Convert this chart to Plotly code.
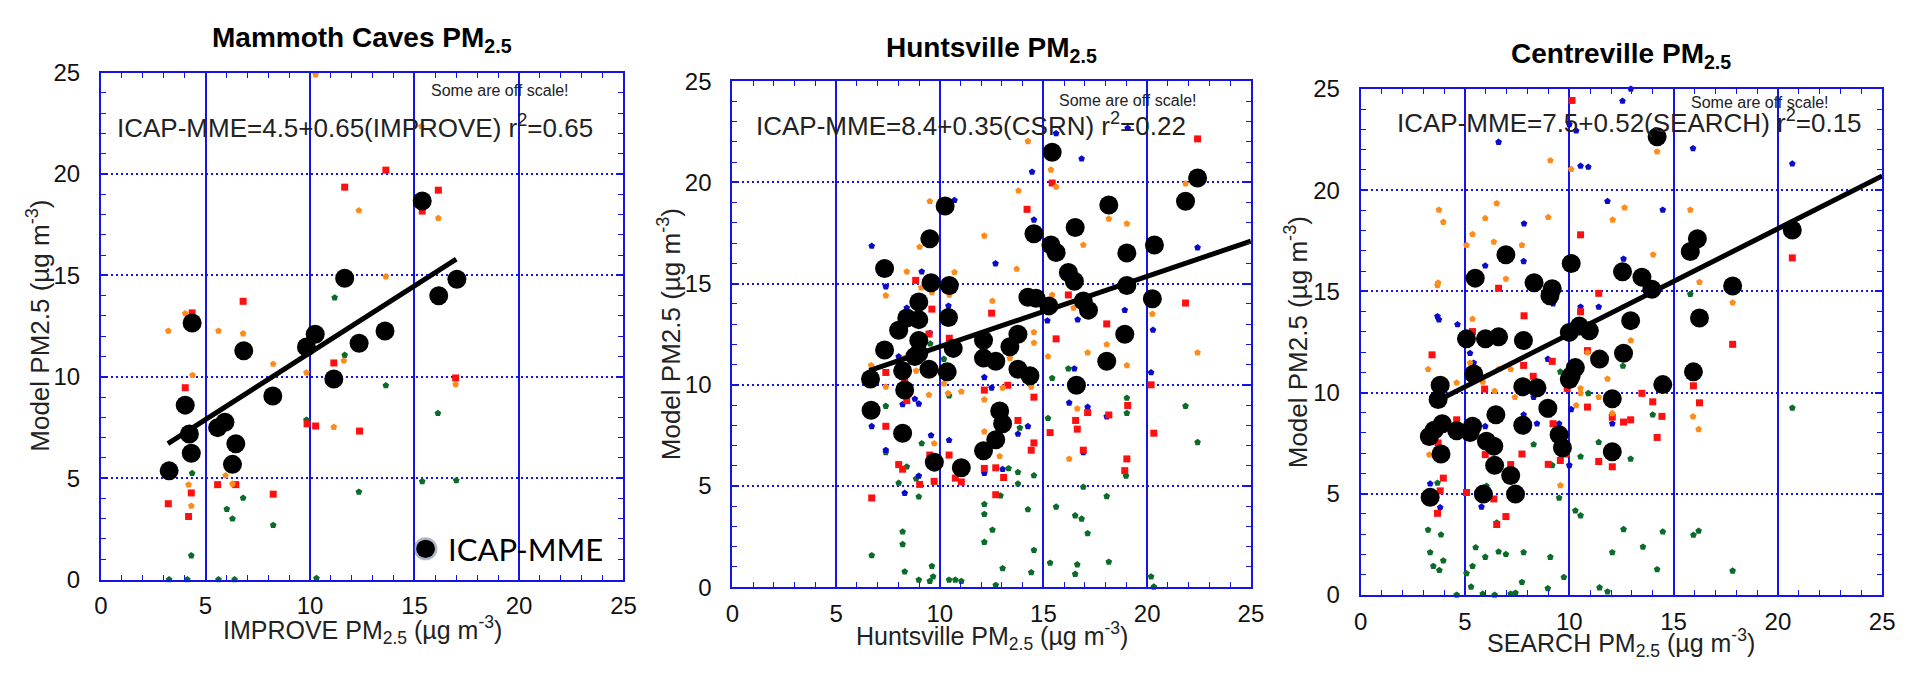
import plotly.graph_objects as go

W, H = 1915, 678

# ---------------- data: Mammoth Caves (IMPROVE) ----------------
mc_icap_x = [3.26, 4.03, 4.23, 4.32, 4.36, 5.58, 5.93, 6.29, 6.45, 6.83, 8.22, 9.83, 10.25, 11.14, 11.66, 12.35, 13.59, 15.37, 16.16, 17.03]
mc_icap_y = [5.36, 8.6, 7.18, 6.23, 12.65, 7.49, 7.76, 5.68, 6.7, 11.28, 9.05, 11.47, 12.1, 9.89, 14.86, 11.65, 12.26, 18.67, 13.99, 14.81]
mc_orange_x = [10.27, 15.33, 12.34, 16.14, 13.63, 4.03, 3.22, 5.62, 6.8, 11.62, 8.24, 4.38, 9.83, 16.97, 11.14, 5.96, 4.19, 6.29, 4.32]
mc_orange_y = [24.9, 22.35, 18.2, 17.82, 14.94, 13.12, 12.26, 12.26, 12.13, 10.79, 10.63, 10.08, 10.2, 9.62, 7.52, 5.13, 4.68, 4.72, 3.63]
mc_red_x = [13.63, 11.66, 16.14, 15.37, 6.8, 4.36, 11.14, 4.03, 16.97, 9.86, 10.27, 12.37, 5.93, 5.58, 6.45, 4.32, 8.24, 3.22, 4.19]
mc_red_y = [20.19, 19.35, 19.2, 18.17, 13.72, 13.15, 10.68, 9.46, 9.94, 7.68, 7.57, 7.32, 8.0, 4.68, 4.68, 4.27, 4.21, 3.74, 3.11]
mc_blue_x = []
mc_blue_y = []
mc_green_x = [11.18, 11.66, 13.63, 16.12, 9.83, 4.36, 15.37, 17.0, 12.34, 6.8, 6.02, 6.29, 8.24, 4.32, 3.26, 4.13, 5.62, 6.39, 10.31]
mc_green_y = [13.9, 11.07, 9.57, 8.2, 7.87, 5.24, 4.84, 4.89, 4.32, 4.02, 3.47, 3.0, 2.68, 1.18, 0.0, 0.0, 0.0, 0.0, 0.06]
mc_fit_x = [3.2, 17.0]
mc_fit_y = [6.7, 15.8]

# ---------------- data: Huntsville (CSRN) ----------------
hv_icap_x = [15.42, 22.43, 21.85, 10.26, 18.15, 16.53, 14.54, 9.52, 15.36, 15.61, 20.35, 19.02, 7.34, 16.2, 16.49, 9.58, 10.46, 19.02, 8.99, 14.25,
             14.64, 15.26, 16.92, 17.17, 20.25, 10.42, 8.41, 8.99, 8.02, 18.92, 13.77, 12.11, 8.99, 8.99, 7.34, 8.8, 10.65, 12.11, 12.7, 13.38,
             18.05, 8.21, 9.48, 10.36, 13.77, 14.35, 6.66, 16.59, 8.31, 6.69, 12.89, 13.03, 8.21, 12.7, 12.11, 9.74, 11.04]
hv_icap_y = [21.49, 20.22, 19.07, 18.83, 18.88, 17.77, 17.46, 17.22, 16.91, 16.54, 16.91, 16.51, 15.75, 15.55, 15.12, 15.04, 14.91, 14.91, 14.09, 14.33,
             14.28, 13.9, 14.14, 13.69, 14.25, 13.33, 13.3, 13.22, 12.7, 12.5, 12.5, 12.2, 12.19, 11.56, 11.72, 11.4, 11.8, 11.32, 11.16, 11.88,
             11.16, 10.69, 10.77, 10.64, 10.77, 10.45, 10.29, 9.98, 9.74, 8.74, 8.71, 8.08, 7.61, 7.29, 6.74, 6.18, 5.9]
hv_orange_x = [14.25, 15.36, 15.61, 21.85, 13.8, 9.52, 18.15, 19.02, 12.15, 9.03, 16.92, 13.71, 8.41, 10.71, 9.11, 7.4, 9.62, 10.46, 15.42, 12.54,
               20.25, 16.45, 14.54, 14.54, 18.05, 22.43, 17.13, 15.22, 13.38, 8.31, 6.69, 19.02, 8.86, 7.4, 13.03, 10.2, 14.41, 10.4, 11.04, 9.48,
               12.15, 16.63, 12.15, 9.73, 12.89, 16.24]
hv_orange_y = [22.03, 20.62, 19.78, 19.94, 19.59, 19.07, 18.2, 17.96, 17.36, 16.81, 16.91, 15.72, 15.59, 15.56, 14.8, 14.41, 14.56, 14.44, 14.44, 14.14,
               13.5, 13.8, 12.6, 12.07, 11.99, 11.59, 11.59, 11.4, 11.32, 11.32, 10.96, 10.96, 10.69, 9.9, 9.85, 10.06, 9.9, 9.58, 9.66, 9.5,
               9.27, 8.82, 7.69, 7.1, 6.47, 6.34]
hv_red_x = [22.43, 15.42, 14.21, 8.84, 16.2, 21.85, 9.62, 12.5, 18.05, 9.48, 10.46, 15.61, 7.4, 8.31, 20.19, 13.28, 12.15, 14.54, 8.41, 19.06,
            17.13, 18.15, 16.55, 13.77, 7.4, 16.63, 15.32, 20.32, 14.54, 14.41, 16.92, 10.45, 9.52, 19.02, 8.02, 8.21, 12.15, 12.7, 18.92, 13.08,
            9.73, 10.75, 11.04, 9.03, 12.7, 6.72]
hv_red_y = [22.15, 19.97, 18.67, 15.16, 14.44, 14.04, 13.74, 13.54, 13.01, 12.51, 12.3, 12.27, 10.61, 10.21, 10.0, 9.98, 9.74, 9.39, 9.22, 8.98,
            8.63, 8.51, 8.24, 8.24, 7.95, 7.81, 7.64, 7.61, 7.13, 6.77, 6.77, 6.53, 6.53, 6.34, 6.06, 5.83, 5.87, 5.9, 5.76, 5.42,
            5.23, 5.39, 5.2, 5.08, 4.57, 4.41]
hv_blue_x = [15.61, 19.06, 16.84, 14.45, 10.71, 14.54, 6.72, 22.43, 12.69, 9.13, 7.4, 8.41, 10.42, 18.92, 15.19, 16.65, 20.28, 9.52, 8.02, 16.49,
             12.15, 20.19, 12.5, 8.8, 8.99, 8.21, 16.24, 17.13, 18.05, 6.72, 14.25, 13.77, 9.58, 10.45, 16.92, 7.4, 13.03, 12.15, 8.99, 8.31]
hv_blue_y = [22.42, 22.68, 21.17, 20.52, 19.12, 18.15, 16.86, 16.78, 15.99, 15.59, 14.85, 13.8, 13.9, 13.69, 13.17, 13.22, 12.71, 12.55, 11.4, 10.8,
             10.37, 10.61, 9.85, 9.3, 9.06, 9.03, 9.11, 8.9, 8.43, 7.95, 7.95, 7.57, 7.5, 7.26, 6.66, 6.77, 5.83, 5.63, 5.5, 4.65]
hv_green_x = [9.54, 10.2, 16.2, 15.42, 10.45, 19.02, 21.85, 7.4, 19.02, 15.22, 13.86, 22.43, 9.13, 7.4, 8.41, 13.32, 13.77, 14.54, 18.98, 8.86,
              8.02, 13.77, 16.92, 8.99, 12.93, 18.05, 12.15, 15.61, 14.25, 12.15, 16.53, 16.84, 12.54, 8.21, 17.13, 8.21, 12.15, 14.54, 6.72, 15.32,
              18.15, 9.62, 13.03, 16.63, 16.53, 14.41, 8.31, 20.19, 9.68, 8.99, 9.52, 10.45, 10.75, 11.04, 12.7, 20.32]
hv_green_y = [12.03, 11.27, 10.8, 10.33, 9.46, 9.35, 8.95, 8.95, 8.6, 8.35, 7.87, 7.16, 7.1, 6.66, 5.95, 5.87, 5.68, 5.52, 5.5, 5.36,
              5.15, 5.11, 4.95, 4.47, 4.52, 4.49, 4.1, 3.97, 3.84, 3.61, 3.54, 3.38, 2.83, 2.74, 2.66, 2.12, 2.23, 1.83, 1.57, 1.2,
              1.25, 1.04, 0.93, 1.12, 0.65, 0.73, 0.77, 0.52, 0.52, 0.36, 0.3, 0.36, 0.36, 0.3, 0.1, 0.02]
hv_fit_x = [6.6, 25.0]
hv_fit_y = [10.7, 17.1]

# ---------------- data: Centreville (SEARCH) ----------------
cv_icap_x = [14.21, 20.69, 16.14, 15.8, 6.96, 10.09, 5.49, 12.55, 13.48, 8.31, 9.18, 9.07, 13.96, 17.83, 16.24, 12.94, 10.48, 10.96, 10.0, 5.07,
             5.98, 6.61, 7.8, 12.6, 11.45, 5.42, 3.81, 10.29, 10.09, 10.0, 7.77, 8.45, 14.48, 15.95, 12.06, 3.71, 8.97, 6.48, 7.77, 3.29,
             3.52, 3.91, 4.6, 5.36, 5.24, 9.51, 9.67, 6.03, 6.38, 3.85, 12.06, 6.42, 7.19, 7.42, 5.88, 3.33]
cv_icap_y = [22.64, 18.03, 17.6, 16.97, 16.81, 16.37, 15.65, 15.97, 15.7, 15.42, 15.13, 14.78, 15.1, 15.26, 13.68, 13.55, 13.28, 13.05, 12.97, 12.65,
             12.65, 12.75, 12.57, 11.94, 11.65, 10.91, 10.36, 11.23, 10.83, 10.64, 10.28, 10.23, 10.39, 11.02, 9.69, 9.65, 9.22, 8.9, 8.38, 7.83,
             8.14, 8.46, 8.11, 8.33, 8.02, 7.91, 7.27, 7.59, 7.35, 6.96, 7.07, 6.4, 5.9, 4.98, 4.98, 4.82]
cv_orange_x = [14.21, 9.09, 10.09, 6.52, 12.65, 3.75, 15.8, 3.96, 5.97, 12.08, 8.99, 5.36, 5.07, 6.38, 7.73, 14.02, 6.96, 3.71, 3.68, 16.24,
               17.83, 5.36, 12.95, 10.87, 3.23, 5.24, 7.19, 6.61, 10.0, 4.6, 5.85, 11.83, 6.42, 10.54, 10.54, 7.39, 11.41, 10.33, 12.06, 15.93,
               16.2, 3.29, 9.57]
cv_orange_y = [21.9, 21.46, 21.03, 19.34, 19.13, 19.02, 19.02, 18.42, 18.61, 18.53, 18.66, 17.82, 17.28, 17.44, 17.28, 16.81, 15.61, 15.42, 15.29, 15.45,
               14.44, 13.63, 12.57, 11.97, 11.15, 11.46, 11.15, 11.15, 11.31, 10.48, 10.52, 10.67, 10.07, 10.2, 9.96, 9.77, 9.77, 9.36, 8.97, 8.81,
               8.18, 6.93, 5.41]
cv_red_x = [10.13, 10.54, 20.69, 6.61, 11.41, 10.54, 7.83, 5.36, 17.83, 3.42, 10.87, 9.18, 7.81, 8.27, 15.95, 5.94, 9.9, 13.48, 14.0, 16.24,
            10.87, 12.06, 8.99, 14.44, 12.94, 12.6, 9.22, 4.6, 14.21, 3.71, 9.86, 7.73, 5.97, 9.57, 11.41, 7.19, 8.99, 12.06, 3.96, 3.81,
            5.07, 6.38, 3.68, 6.96, 6.52]
cv_red_y = [24.43, 17.79, 16.65, 15.15, 14.9, 13.99, 13.79, 13.01, 12.38, 11.86, 12.07, 11.54, 11.34, 10.8, 10.33, 10.17, 10.2, 9.96, 9.54, 9.49,
            9.28, 8.78, 8.93, 8.82, 8.65, 8.54, 8.46, 8.65, 7.78, 7.51, 6.96, 6.96, 6.93, 6.64, 6.59, 6.44, 6.45, 6.33, 5.77, 5.14,
            5.06, 4.74, 4.03, 3.87, 3.48]
cv_blue_x = [12.95, 12.55, 10.0, 10.33, 6.61, 15.93, 10.54, 10.91, 20.69, 11.83, 14.48, 7.83, 12.6, 7.81, 5.97, 9.22, 10.54, 11.41, 3.68, 3.75,
             4.64, 5.24, 5.42, 8.97, 8.29, 10.09, 7.81, 12.06, 8.45, 9.51, 5.97, 3.81, 10.0, 3.33, 5.79, 3.81]
cv_blue_y = [25.0, 24.4, 23.25, 22.93, 22.37, 22.06, 21.19, 21.14, 21.3, 19.45, 19.02, 18.34, 16.6, 16.48, 16.26, 14.39, 14.23, 14.23, 13.76, 13.6,
             13.36, 11.94, 11.46, 11.65, 9.77, 9.17, 8.9, 8.46, 8.46, 8.46, 8.33, 8.06, 6.4, 5.49, 4.35, 4.32]
cv_green_x = [15.8, 12.57, 9.57, 10.91, 14.0, 20.69, 8.29, 11.41, 10.54, 12.94, 9.18, 3.68, 6.03, 9.51, 10.29, 10.54, 6.52, 3.23, 3.85, 12.6,
              14.48, 16.2, 15.95, 13.53, 3.33, 5.51, 6.61, 6.96, 7.81, 12.06, 9.09, 5.97, 3.96, 3.48, 5.36, 3.77, 17.83, 14.21, 5.07, 9.74,
              7.73, 5.29, 11.45, 8.97, 11.83, 4.6, 5.85, 6.42, 7.19, 7.42]
cv_green_y = [14.86, 11.31, 11.02, 9.96, 8.9, 9.24, 7.43, 7.54, 6.83, 6.72, 6.4, 5.53, 5.38, 4.79, 4.16, 3.92, 3.56, 3.21, 2.97, 3.24,
              3.12, 3.16, 2.96, 2.37, 2.1, 2.34, 2.13, 2.01, 2.1, 2.1, 1.87, 1.87, 1.69, 1.42, 1.42, 1.22, 1.19, 1.26, 1.06, 0.87,
              0.63, 0.4, 0.36, 0.32, 0.16, 0.0, 0.05, 0.0, 0.05, 0.1]
cv_fit_x = [3.7, 25.0]
cv_fit_y = [9.6, 20.7]

# ---------------- text ----------------
titles = ["Mammoth Caves PM<sub>2.5</sub>", "Huntsville PM<sub>2.5</sub>", "Centreville PM<sub>2.5</sub>"]
equations = ["ICAP-MME=4.5+0.65(IMPROVE) r<sup>2</sup>=0.65",
             "ICAP-MME=8.4+0.35(CSRN) r<sup>2</sup>=0.22",
             "ICAP-MME=7.5+0.52(SEARCH) r<sup>2</sup>=0.15"]
x_titles = ["IMPROVE PM<sub>2.5</sub> (µg m<sup>-3</sup>)",
            "Huntsville PM<sub>2.5</sub> (µg m<sup>-3</sup>)",
            "SEARCH PM<sub>2.5</sub> (µg m<sup>-3</sup>)"]
y_title = "Model PM2.5 (µg m<sup>-3</sup>)"
note = "Some are off scale!"
legend_label = "ICAP-MME"
tick_vals = [0, 5, 10, 15, 20, 25]
tick_text = ["0", "5", "10", "15", "20", "25"]

# ---------------- style ----------------
BLUE = "#1414e6"
COL = {"orange": "#ff8c1a", "red": "#ff1010", "blue": "#0a0acc", "green": "#0b6b28"}
SYM = {"orange": "pentagon", "red": "square", "blue": "pentagon", "green": "pentagon"}
FONT = "Liberation Sans, Arial, sans-serif"

# plot boxes in pixels: left, right, top, bottom
boxes = [(95, 623, 61, 589), (733, 1257, 70, 597), (1368, 1895, 78, 605)]
title_y = [27, 37, 43]
eq_pos = [(352, 117), (974, 115), (1640, 112)]
note_pos = [(498, 80), (1133, 90), (1771, 92)]
xt_y = [642, 648, 655]
yt_x = [31, 669, 1304]

def fx(p):
    return p / W

def fy(p):
    return 1 - p / H

panels = [
    dict(icap=(mc_icap_x, mc_icap_y), fit=(mc_fit_x, mc_fit_y),
         small={"green": (mc_green_x, mc_green_y), "blue": (mc_blue_x, mc_blue_y),
                "red": (mc_red_x, mc_red_y), "orange": (mc_orange_x, mc_orange_y)}),
    dict(icap=(hv_icap_x, hv_icap_y), fit=(hv_fit_x, hv_fit_y),
         small={"green": (hv_green_x, hv_green_y), "blue": (hv_blue_x, hv_blue_y),
                "red": (hv_red_x, hv_red_y), "orange": (hv_orange_x, hv_orange_y)}),
    dict(icap=(cv_icap_x, cv_icap_y), fit=(cv_fit_x, cv_fit_y),
         small={"green": (cv_green_x, cv_green_y), "blue": (cv_blue_x, cv_blue_y),
                "red": (cv_red_x, cv_red_y), "orange": (cv_orange_x, cv_orange_y)}),
]

fig = go.Figure()
annotations = []
layout_axes = {}

for i, p in enumerate(panels):
    n = "" if i == 0 else str(i + 1)
    xa, ya = "x" + n, "y" + n
    for key in ["green", "blue", "red", "orange"]:
        sx, sy = p["small"][key]
        if not sx:
            continue
        fig.add_trace(go.Scatter(x=sx, y=sy, mode="markers", xaxis=xa, yaxis=ya,
                                 marker=dict(size=7, color=COL[key], symbol=SYM[key], line=dict(width=0)),
                                 showlegend=False, cliponaxis=False, hoverinfo="skip"))
    ix, iy = p["icap"]
    fig.add_trace(go.Scatter(x=ix, y=iy, mode="markers", xaxis=xa, yaxis=ya,
                             marker=dict(size=19, color="black", line=dict(width=0)),
                             showlegend=False, cliponaxis=False, name="ICAP-MME"))
    lx, ly = p["fit"]
    fig.add_trace(go.Scatter(x=lx, y=ly, mode="lines", xaxis=xa, yaxis=ya,
                             line=dict(color="black", width=5), showlegend=False))

    l, r, t, b = boxes[i]
    common = dict(range=[0, 25], showline=True, linecolor=BLUE, linewidth=2, mirror="allticks",
                  ticks="inside", ticklen=7, tickwidth=1.5, tickcolor=BLUE,
                  tickmode="array", tickvals=tick_vals, ticktext=tick_text,
                  tickfont=dict(family=FONT, size=24, color="#111"),
                  showgrid=True, gridcolor=BLUE, zeroline=False, fixedrange=True,
                  minor=dict(dtick=1, tick0=0, ticks="inside", ticklen=5, tickwidth=1.2,
                             tickcolor=BLUE, showgrid=False))
    layout_axes["xaxis" + n] = dict(common, domain=[fx(l), fx(r)], anchor=ya,
                                    gridwidth=1.8, ticklabelstandoff=4)
    layout_axes["yaxis" + n] = dict(common, domain=[fy(b), fy(t)], anchor=xa,
                                    gridwidth=2, griddash="2px,3px", ticklabelstandoff=14)

    cx = (l + r) / 2
    annotations.append(dict(text="<b>" + titles[i] + "</b>", x=fx(cx), y=fy(title_y[i]), xref="paper", yref="paper",
                            showarrow=False, xanchor="center", yanchor="middle",
                            font=dict(family=FONT, size=28, color="black")))
    annotations.append(dict(text=equations[i], x=fx(eq_pos[i][0]), y=fy(eq_pos[i][1]), xref="paper", yref="paper",
                            showarrow=False, xanchor="center", yanchor="middle",
                            font=dict(family=FONT, size=26, color="#222")))
    annotations.append(dict(text=note, x=fx(note_pos[i][0]), y=fy(note_pos[i][1]), xref="paper", yref="paper",
                            showarrow=False, xanchor="center", yanchor="middle",
                            font=dict(family=FONT, size=16, color="#222")))
    annotations.append(dict(text=x_titles[i], x=fx(cx), y=fy(xt_y[i]), xref="paper", yref="paper",
                            showarrow=False, xanchor="center", yanchor="middle",
                            font=dict(family=FONT, size=25, color="#222")))
    annotations.append(dict(text=y_title, x=fx(yt_x[i]), y=fy((t + b) / 2), xref="paper", yref="paper",
                            showarrow=False, xanchor="center", yanchor="middle", textangle=-90,
                            font=dict(family=FONT, size=26, color="#222")))

# legend key for ICAP-MME (drawn inside panel 1)
annotations.append(dict(text=legend_label, x=fx(444), y=fy(557), xref="paper", yref="paper",
                        showarrow=False, xanchor="left", yanchor="middle",
                        font=dict(family="Lato, Liberation Sans, sans-serif", size=31, color="black")))
shapes = [
    dict(type="circle", xref="paper", yref="paper", x0=fx(411), x1=fx(435), y0=fy(569), y1=fy(545),
         fillcolor="rgba(70,95,135,0.45)", line=dict(width=0), layer="above"),
    dict(type="circle", xref="paper", yref="paper", x0=fx(413.5), x1=fx(432.5), y0=fy(566.5), y1=fy(547.5),
         fillcolor="black", line=dict(width=0), layer="above"),
]

fig.update_layout(
    width=W, height=H, margin=dict(l=0, r=0, t=0, b=0, pad=0),
    paper_bgcolor="white", plot_bgcolor="white",
    annotations=annotations, shapes=shapes,
    showlegend=False,
    **layout_axes,
)

fig.write_html("out.html")
